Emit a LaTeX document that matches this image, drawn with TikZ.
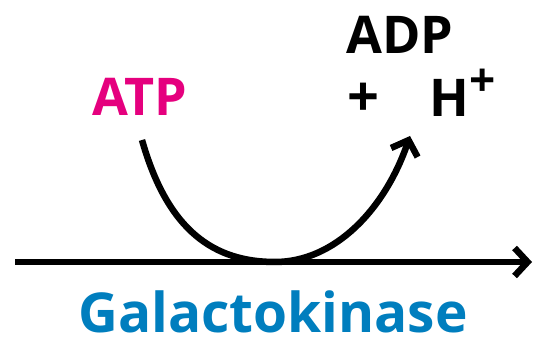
\documentclass[tikz,border=0pt]{standalone}
\usepackage{fontspec}
\setmainfont{Open Sans}
\usetikzlibrary{arrows.meta}
\definecolor{atpmag}{RGB}{229,0,126}
\definecolor{enzblue}{RGB}{0,126,190}
\tikzset{
  lbl/.style={inner sep=0pt, font=\bfseries},
  flow/.style={line width=6.5pt, -{Straight Barb[length=13pt,width=28pt]}},
}
\begin{document}
\begin{tikzpicture}[x=1pt,y=1pt]
\useasboundingbox (0,0) rectangle (534,344);
\node[lbl, text=atpmag, font=\bfseries\fontsize{52}{60}\selectfont] (atp) at (140,247.5) {ATP};
\node[lbl, font=\bfseries\fontsize{52}{60}\selectfont] (adp) at (400,309.5) {ADP};
\node[lbl, anchor=base, font=\bfseries\fontsize{56}{60}\selectfont] (plus) at (363,227) {+};
\node[lbl, anchor=base west, font=\bfseries\fontsize{52}{60}\selectfont] (hplus) at (429,227) {H\kern1pt\raisebox{0.40em}{\fontsize{46}{50}\selectfont +}};
\node[lbl, anchor=base, text=enzblue, font=\bfseries\fontsize{55}{66}\selectfont] (enz) at (273,11) {Galactokinase};
\coordinate (s) at (142,204);
\coordinate (bot) at (275,82);
\coordinate (e) at (410,208);
\coordinate (l) at (15,82);
\coordinate (r) at (532,82);
\draw[flow] (l) -- (r);
\draw[flow] (s) .. controls (168,112) and (215,82) .. (bot) .. controls (335,82) and (385,135) .. (e);
\end{tikzpicture}
\end{document}
